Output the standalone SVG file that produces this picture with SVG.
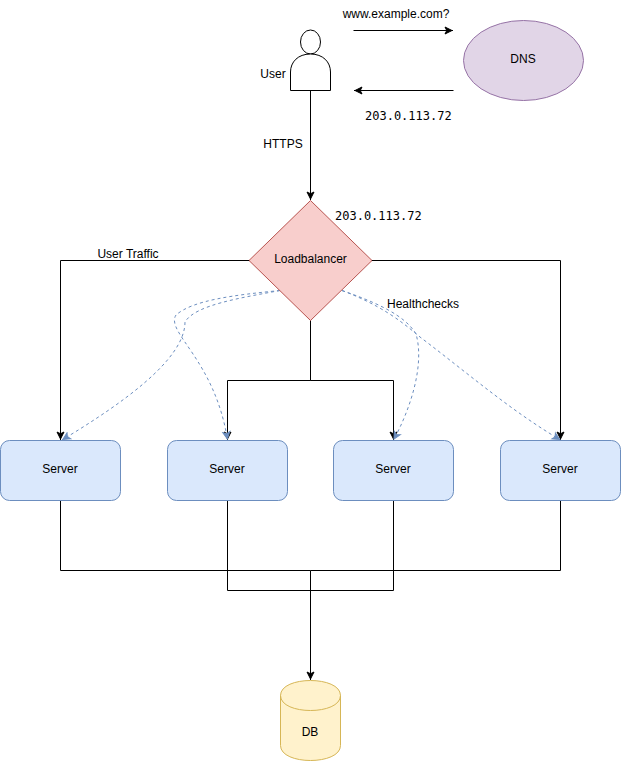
<svg xmlns="http://www.w3.org/2000/svg" width="621" height="761" viewBox="0 0 621 761">
<defs>
<style>
text{font-family:"Liberation Sans",Arial,sans-serif;font-size:12px;fill:#000;text-anchor:middle}
text.m{font-family:"DejaVu Sans Mono","Liberation Mono",monospace;text-anchor:start}
.c{fill:none;stroke:#000;stroke-width:1}
.h{fill:none;stroke:#6c8ebf;stroke-width:1;stroke-dasharray:3 3}
.srv{fill:#dae8fc;stroke:#6c8ebf}
</style>
<marker id="a" markerUnits="userSpaceOnUse" markerWidth="12" markerHeight="12" refX="9" refY="5" orient="auto"><path d="M1 1.500L8 5L1 8.500L2.750 5Z" fill="#000" stroke="#000"/></marker>
<marker id="b" markerUnits="userSpaceOnUse" markerWidth="12" markerHeight="12" refX="9" refY="5" orient="auto"><path d="M1 1.500L8 5L1 8.500L2.750 5Z" fill="#6c8ebf" stroke="#6c8ebf"/></marker>
</defs>
<g id="connectors">
<path class="c" marker-end="url(#a)" d="M353.500 30.500H453"/>
<path class="c" marker-end="url(#a)" d="M453.500 90.500H354"/>
<path class="c" marker-end="url(#a)" d="M310.500 90.500V200"/>
<path class="c" marker-end="url(#a)" d="M250.500 260.500H60.500V440"/>
<path class="c" marker-end="url(#a)" d="M370.500 260.500H560.500V440"/>
<path class="c" marker-end="url(#a)" d="M310.500 320.500V380.500H227.500V440"/>
<path class="c" marker-end="url(#a)" d="M310.500 320.500V380.500H393.500V440"/>
<path class="c" d="M60.500 500.500V570.500H310.500"/>
<path class="c" d="M560.500 500.500V570.500H310.500"/>
<path class="c" d="M227.500 500.500V590.500H310.500"/>
<path class="c" d="M393.500 500.500V590.500H310.500"/>
<path class="c" marker-end="url(#a)" d="M310.500 570.500V680"/>
<path class="h" marker-end="url(#b)" d="M280 290.500C235 295 193 300 176 315C165 332 215 360 227.500 440"/>
<path class="h" marker-end="url(#b)" d="M280 290.500C240 298 195 305 185 322C185 360 120 405 62 440"/>
<path class="h" marker-end="url(#b)" d="M342 290.500C375 302 405 315 416 334C425 365 410 410 393.500 440"/>
<path class="h" marker-end="url(#b)" d="M342 290.500C380 305 400 320 420 337C470 375 510 410 560.500 440"/>
</g>
<g id="user">
<ellipse cx="310.500" cy="42" rx="10" ry="12" fill="#fff" stroke="#000"/>
<path d="M290.500 90.500V72C290.500 62 298 54 310.500 54C323 54 330.500 62 330.500 72V90.500Z" fill="#fff" stroke="#000"/>
<text x="273" y="78">User</text>
</g>
<g id="dns">
<ellipse cx="523.500" cy="60.500" rx="60" ry="40" fill="#e1d5e7" stroke="#9673a6"/>
<text x="523" y="63">DNS</text>
</g>
<g id="loadbalancer">
<path d="M310.500 200.500L372 260.500L310.500 320.500L249 260.500Z" fill="#f8cecc" stroke="#b85450"/>
<text x="310.500" y="263">Loadbalancer</text>
</g>
<g id="server1"><rect class="srv" x="0.500" y="440.500" width="120" height="60" rx="9"/><text x="60" y="473">Server</text></g>
<g id="server2"><rect class="srv" x="167.500" y="440.500" width="120" height="60" rx="9"/><text x="227" y="473">Server</text></g>
<g id="server3"><rect class="srv" x="333.500" y="440.500" width="120" height="60" rx="9"/><text x="393" y="473">Server</text></g>
<g id="server4"><rect class="srv" x="500.500" y="440.500" width="120" height="60" rx="9"/><text x="560" y="473">Server</text></g>
<g id="db">
<path d="M280.500 695.500C280.500 675.500 340.500 675.500 340.500 695.500V745.500C340.500 765.500 280.500 765.500 280.500 745.500Z" fill="#fff2cc" stroke="#d6b656"/>
<path d="M280.500 695.500C280.500 715.500 340.500 715.500 340.500 695.500" fill="none" stroke="#d6b656"/>
<text x="310" y="736">DB</text>
</g>
<g id="labels">
<text x="396" y="18">www.example.com?</text>
<text class="m" x="365" y="120">203.0.113.72</text>
<text x="283" y="148">HTTPS</text>
<text class="m" x="335" y="220">203.0.113.72</text>
<text x="128" y="258">User Traffic</text>
<text x="423" y="308">Healthchecks</text>
</g>
</svg>
